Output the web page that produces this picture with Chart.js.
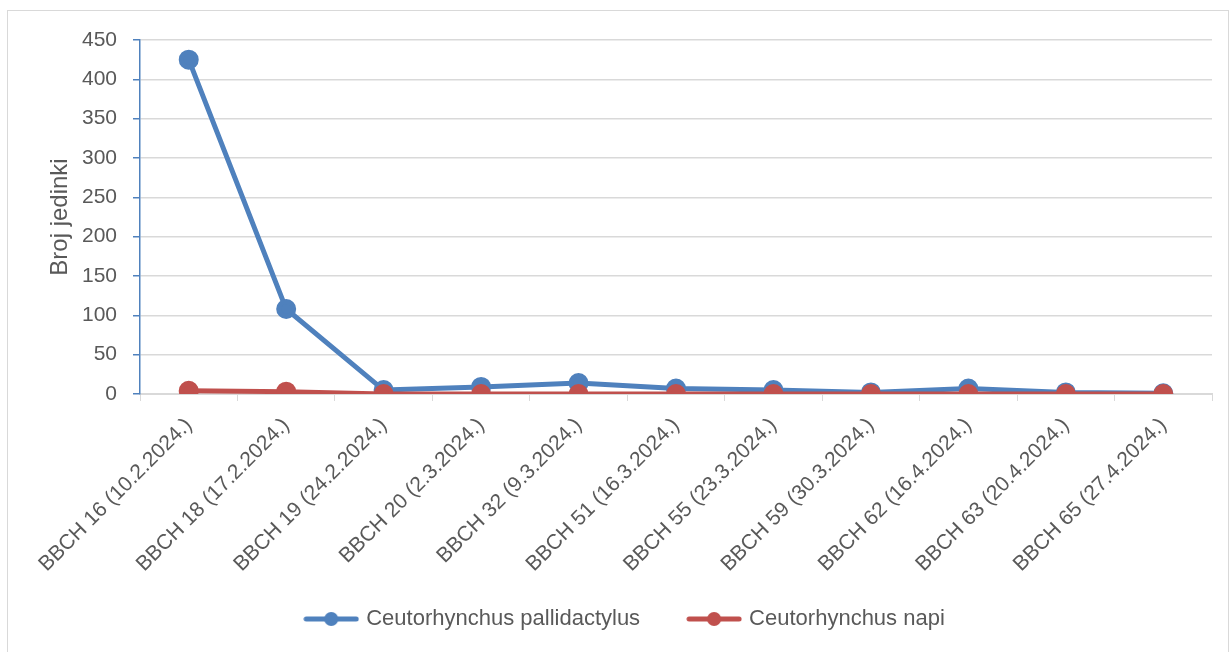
<!DOCTYPE html>
<html>
<head>
<meta charset="utf-8">
<script src="https://cdn.jsdelivr.net/npm/chart.js@4/dist/chart.umd.min.js"></script>
<style>
  html, body { margin: 0; padding: 0; background: #fff; }
  #frame { position: absolute; left: 7px; top: 10px; width: 1222px; height: 660px; border: 1px solid #d9d9d9; box-sizing: border-box; }
  #wrap { position: absolute; left: 0; top: 0; width: 1231px; height: 652px; }
</style>
</head>
<body>
<div id="frame"></div>
<div id="wrap"><canvas id="chart" width="1231" height="652"></canvas></div>
<script>
// kategorije (faze BBCH s datumom)
const categories = [
  'BBCH 16 (10.2.2024.)', 'BBCH 18 (17.2.2024.)', 'BBCH 19 (24.2.2024.)',
  'BBCH 20 (2.3.2024.)', 'BBCH 32 (9.3.2024.)', 'BBCH 51 (16.3.2024.)',
  'BBCH 55 (23.3.2024.)', 'BBCH 59 (30.3.2024.)', 'BBCH 62 (16.4.2024.)',
  'BBCH 63 (20.4.2024.)', 'BBCH 65 (27.4.2024.)'
];
const pallidactylus = [425, 108, 5, 9, 14, 7, 5, 2, 7, 2, 1];
const napi = [4, 3, 0, 0, 0, 0, 0, 0, 0, 0, 0];
const yTicks = [0, 50, 100, 150, 200, 250, 300, 350, 400, 450];

const FONT = "'Liberation Sans', Arial, sans-serif";
const TEXT = '#595959';

// oznaka za legendu: crta s točkom
function legendMark(color) {
  const c = document.createElement('canvas');
  c.width = 56; c.height = 16;
  const g = c.getContext('2d');
  g.strokeStyle = color; g.lineWidth = 5; g.lineCap = 'round';
  g.beginPath(); g.moveTo(3, 8); g.lineTo(53, 8); g.stroke();
  g.fillStyle = color;
  g.beginPath(); g.arc(28, 8, 7, 0, Math.PI * 2); g.fill();
  return c;
}

const ctx = document.getElementById('chart').getContext('2d');
new Chart(ctx, {
  type: 'line',
  data: {
    labels: categories,
    datasets: [
      {
        label: 'Ceutorhynchus pallidactylus',
        data: pallidactylus,
        borderColor: '#4f81bd',
        backgroundColor: '#4f81bd',
        borderWidth: 5,
        pointRadius: 7.5,
        pointHoverRadius: 7.5,
        pointStyle: 'circle',
        tension: 0,
        order: 1
      },
      {
        label: 'Ceutorhynchus napi',
        data: napi,
        borderColor: '#c0504d',
        backgroundColor: '#c0504d',
        borderWidth: 5,
        pointRadius: 7.5,
        pointHoverRadius: 7.5,
        tension: 0,
        order: 0
      }
    ]
  },
  options: {
    responsive: false,
    animation: false,
    layout: { padding: { left: 40, right: 19, top: 40, bottom: 12 } },
    plugins: {
      tooltip: { enabled: false },
      legend: {
        position: 'bottom',
        labels: {
          font: { family: FONT, size: 22 },
          color: TEXT,
          padding: 50,
          usePointStyle: true,
          pointStyleWidth: 48,
          generateLabels: (chart) => chart.data.datasets.map((ds, i) => ({
            text: ds.label,
            fontColor: TEXT,
            pointStyle: legendMark(ds.borderColor),
            lineWidth: 0,
            strokeStyle: 'transparent',
            fillStyle: ds.borderColor,
            datasetIndex: i
          }))
        }
      }
    },
    scales: {
      x: {
        offset: true,
        grid: { offset: true, drawOnChartArea: false, drawTicks: true, tickLength: 7, tickColor: '#d9d9d9' },
        border: { color: '#d9d9d9', width: 2 },
        ticks: {
          font: { family: FONT, size: 21 },
          color: TEXT,
          minRotation: 45,
          maxRotation: 45,
          autoSkip: false,
          padding: 12
        },
        afterFit: (s) => {
          s.height = 164;
          // oznake se protežu ispod osi, ne rezati ih
          s._computeLabelArea = () => null;
        }
      },
      y: {
        min: 0,
        max: 450,
        afterBuildTicks: (s) => { s.ticks = yTicks.map(v => ({ value: v })); },
        grid: { color: '#d9d9d9', lineWidth: 1.5, tickLength: 7, tickColor: '#4f81bd' },
        border: { color: '#4f81bd', width: 1.5 },
        ticks: { font: { family: FONT, size: 21 }, color: TEXT, padding: 16 },
        title: {
          display: true,
          text: 'Broj jedinki',
          font: { family: FONT, size: 24 },
          color: TEXT,
          padding: { top: 6, bottom: 0 }
        },
        afterFit: (s) => { s.width = 100; }
      }
    }
  }
});
</script>
</body>
</html>
